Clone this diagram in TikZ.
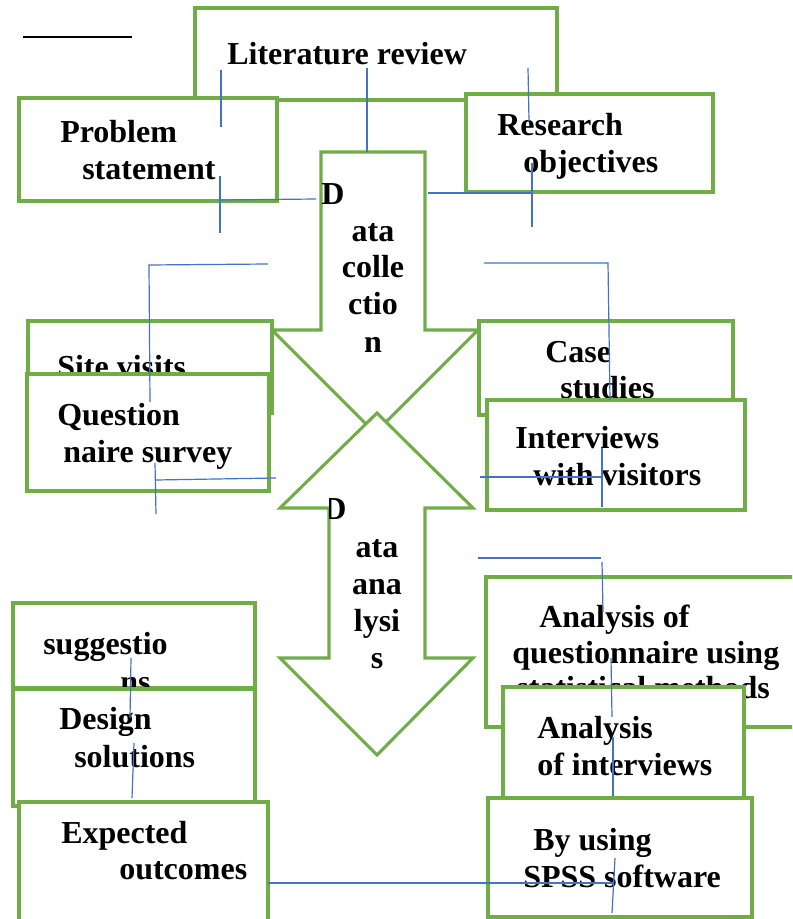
\documentclass[tikz,border=0pt]{standalone}
\usepackage{fontspec}
\setmainfont{Liberation Serif}
\usepackage{xcolor}
\usepackage{tikz}

\definecolor{boxgreen}{HTML}{70AD47}
\definecolor{linkblue}{HTML}{4472C4}

\tikzset{
	box/.style={draw=boxgreen, line width=2.3pt, fill=white},
	link/.style={draw=linkblue, line width=0.9pt},
	lbl/.style={anchor=base west, inner sep=0pt, font=\bfseries\fontsize{24}{28}\selectfont},
	clbl/.style={lbl, anchor=base},
}

\begin{document}
\begin{tikzpicture}[x=0.75pt, y=-0.75pt]

\clip (0,0) rectangle (792,919);
\useasboundingbox (0,0) rectangle (792,919);

\draw[line width=1.5pt] (23,37)--(132,37);

% top row
\draw[box] (195,8) rectangle (557,100);
\node[lbl] (lit) at (227,65) {Literature review};

\draw[box] (19,98) rectangle (277,201);
\node[lbl] (prob1) at (60,143) {Problem};
\node[lbl] (prob2) at (82,180) {statement};

\draw[box] (466,94) rectangle (713,192);
\node[lbl] (obj1) at (497,136) {Research};
\node[lbl] (obj2) at (523,173) {objectives};

% data collection
\draw[box] (321,152)--(425,152)--(425,330)--(478,330)--(375,433)--(272,330)--(321,330)--cycle;
\node[lbl] (col0) at (321,205) {D};
\foreach \t/\y in {ata/242, colle/278, ctio/315, n/352}{
	\node[clbl] at (373,\y) {\t};
}

\draw[box] (28,321) rectangle (272,413);
\node[lbl] (site) at (57,377) {Site visits};

\draw[box] (27,374) rectangle (269,491);
\node[lbl] (que1) at (57,425) {Question};
\node[lbl] (que2) at (63,462) {naire survey};

\draw[box] (479,321) rectangle (733,415);
\node[lbl] (case1) at (545,362) {Case};
\node[lbl] (case2) at (560,398) {studies};

\draw[box] (487,400) rectangle (745,510);
\node[lbl] (int1) at (515,448) {Interviews};
\node[lbl] (int2) at (533,485) {with visitors};

% data analysis
\draw[box] (377,413)--(473,508)--(425,508)--(425,658)--(473,658)--(377,755)--(280,658)--(329,658)--(329,508)--(280,508)--cycle;
\begin{scope}
	\clip (329,480) rectangle (360,530);
	\node[lbl] (ana0) at (323,519) {D};
\end{scope}
\foreach \t/\y in {ata/557, ana/594, lysi/631, s/668}{
	\node[clbl] at (377,\y) {\t};
}

% bottom left
\draw[box] (13,603) rectangle (255,688);
\node[lbl] (sug1) at (43,654) {suggestio};
\node[lbl] (sug2) at (120,692) {ns};

\draw[box] (13,689) rectangle (255,806);
\node[lbl] (des1) at (59,729) {Design};
\node[lbl] (des2) at (74,767) {solutions};

\draw[box] (19,802) rectangle (268,940);
\node[lbl] (exp1) at (61,843) {Expected};
\node[lbl] (exp2) at (119,879) {outcomes};

% bottom right
\draw[box] (486,577) rectangle (820,727);
\node[lbl] (aq1) at (539,627) {Analysis of};
\node[lbl] (aq2) at (512,663) {questionnaire using};
\node[lbl, anchor=base east] (aq3) at (770,698) {statistical methods};

\draw[box] (503,687) rectangle (744,798);
\node[lbl] (ai1) at (537,738) {Analysis};
\node[lbl] (ai2) at (537,775) {of interviews};

\draw[box] (488,798) rectangle (752,917);
\node[lbl] (spss1) at (533,850) {By using};
\node[lbl] (spss2) at (523,887) {SPSS software};

% blue lines
\draw[link] (221,70)--(221,127);
\draw[link] (367,68)--(367,152);
\draw[link] (220,176)--(220,233);
\draw[link] (220,200)--(316,199);
\draw[link] (528,68)--(529,121);
\draw[link] (532,163)--(532,227);
\draw[link] (428,193)--(532,193);
\draw[link] (268,264)--(149,265)--(150,402);
\draw[link] (155,463)--(156,514);
\draw[link] (156,480)--(276,478);
\draw[link] (484,263)--(608,263)--(610,400);
\draw[link] (602,448)--(602,507);
\draw[link] (480,477)--(602,477);
\draw[link] (478,558)--(601,558);
\draw[link] (602,562)--(603,612);
\draw[link] (611,658)--(612,717);
\draw[link] (613,737)--(613,796);
\draw[link] (615,858)--(612,913);
\draw[link] (268,883)--(613,883);
\draw[link] (131,658)--(130,718);
\draw[link] (134,743)--(132,798);

\end{tikzpicture}
\end{document}
